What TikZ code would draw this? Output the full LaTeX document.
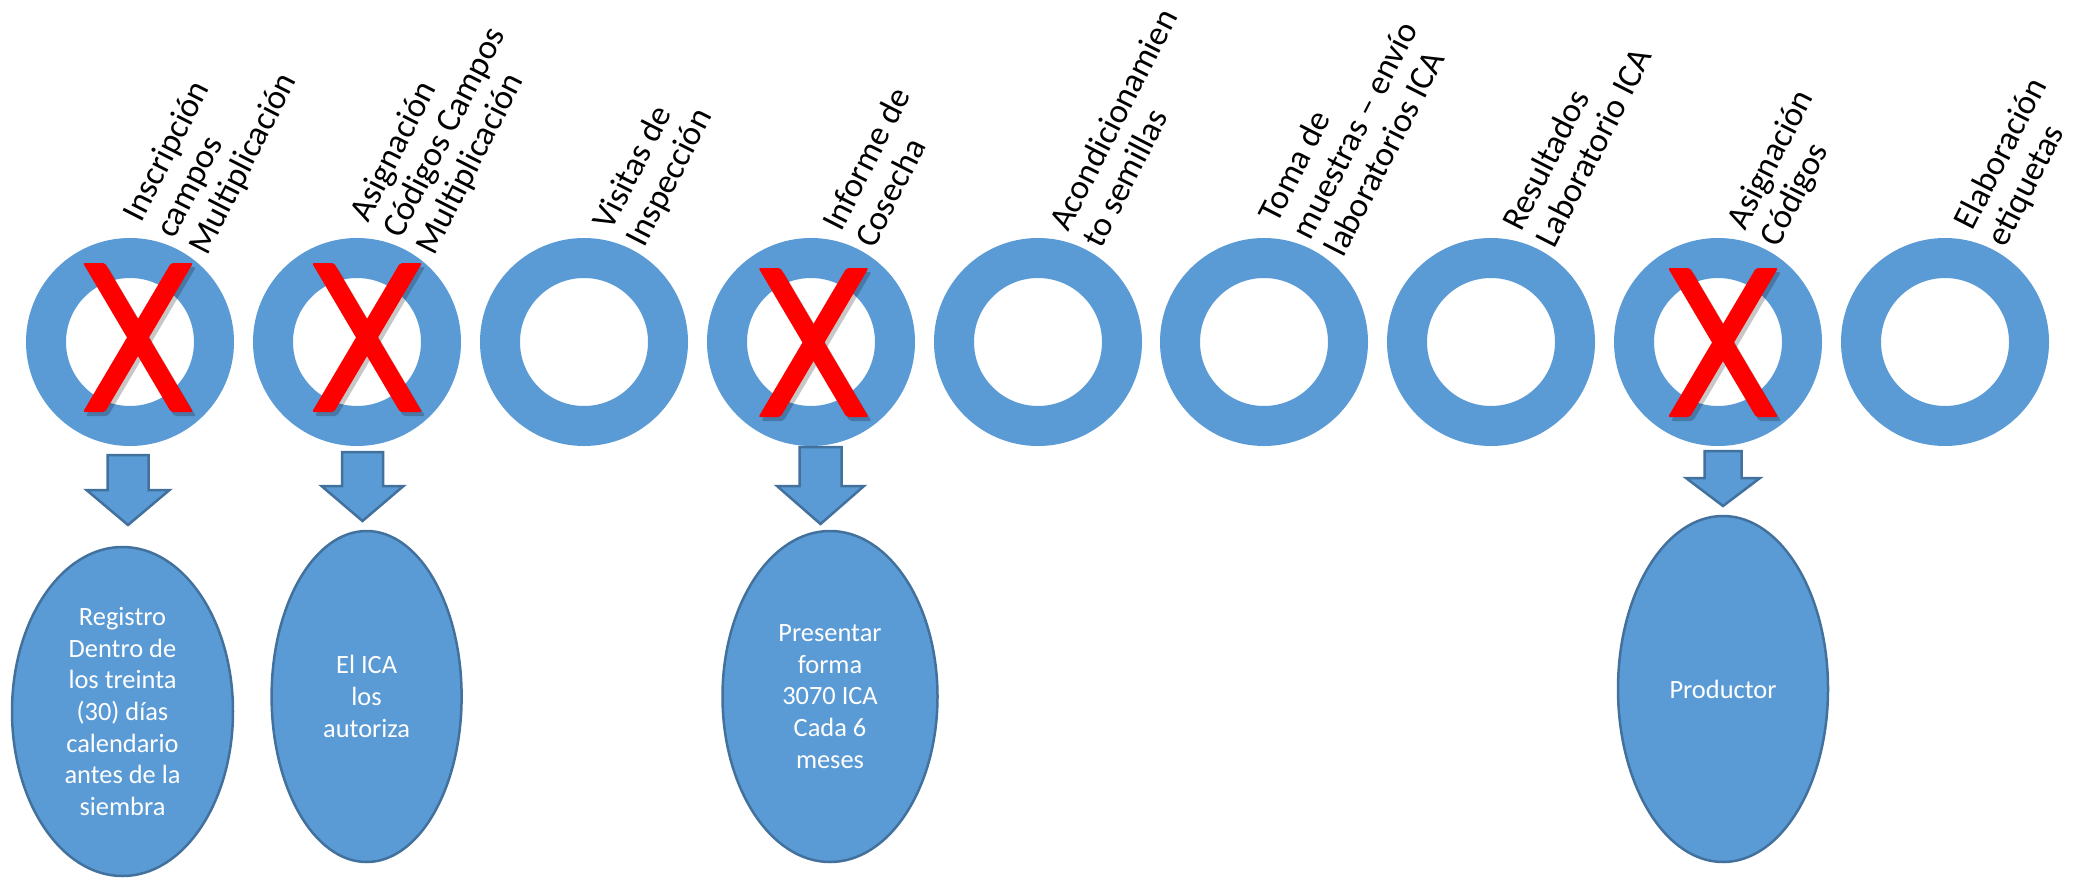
\documentclass[tikz,border=0pt]{standalone}
\usepackage{fontspec}
\setmainfont{Carlito}
\usetikzlibrary{shapes.geometric}
\definecolor{ringblue}{HTML}{5B9BD5}
\definecolor{edgeblue}{HTML}{41719C}
\definecolor{xred}{HTML}{FF0000}
\tikzset{
  ring/.style={circle, draw=ringblue, line width=40pt, minimum size=168pt, inner sep=0pt},
  lab/.style={anchor=west, rotate=63, align=left, inner sep=0pt, text=black,
    font=\fontsize{34.5}{37}\selectfont},
  oval/.style={ellipse, fill=ringblue, draw=edgeblue, line width=2.5pt, text=white,
    align=center, inner sep=0pt, font=\fontsize{26.4}{31.7}\selectfont},
  barr/.style={fill=ringblue, draw=edgeblue, line width=2.5pt, line join=miter},
  xarm/.style={fill=xred, rounded corners=2pt},
  xshadow/.style={fill=black, opacity=0.22, rounded corners=2pt}
}
\newcommand\redx[2]{%
  \begin{scope}[shift={(3,4)}]
  \path[xshadow] (#1-55,#2-74.5) -- (#1-33,#2-74.5) -- (#1+55,#2+74.5) -- (#1+33,#2+74.5) -- cycle;
  \path[xshadow] (#1+55,#2-74.5) -- (#1+33,#2-74.5) -- (#1-55,#2+74.5) -- (#1-33,#2+74.5) -- cycle;
  \end{scope}
  \path[xarm] (#1-55,#2-74.5) -- (#1-33,#2-74.5) -- (#1+55,#2+74.5) -- (#1+33,#2+74.5) -- cycle;
  \path[xarm] (#1+55,#2-74.5) -- (#1+33,#2-74.5) -- (#1-55,#2+74.5) -- (#1-33,#2+74.5) -- cycle;
}
% block arrow: cx, top, headstart, tip, half shaft, half head
\newcommand\barrow[6]{%
  \draw[barr] (#1-#5,#2) -- (#1+#5,#2) -- (#1+#5,#3) -- (#1+#6,#3) -- (#1,#4)
    -- (#1-#6,#3) -- (#1-#5,#3) -- cycle;
}
\begin{document}
\begin{tikzpicture}[x=1pt,y=-1pt]
\useasboundingbox (0,0) rectangle (2074,880);
\fill[white] (0,0) rectangle (2074,880);

% rings
\node[ring] (r1) at (130,342) {};
\node[ring] (r2) at (357,342) {};
\node[ring] (r3) at (584,342) {};
\node[ring] (r4) at (811,342) {};
\node[ring] (r5) at (1038,342) {};
\node[ring] (r6) at (1264,342) {};
\node[ring] (r7) at (1491,342) {};
\node[ring] (r8) at (1718,342) {};
\node[ring] (r9) at (1945,342) {};

% labels
\node[lab] (l1) at (166,236) {Inscripción\\campos\\Multiplicación};
\node[lab] (l2) at (393,236) {Asignación\\Códigos Campos\\Multiplicación};
\node[lab] (l3) at (620,236) {Visitas de\\Inspección};
\node[lab] (l4) at (847,236) {Informe de\\Cosecha};
\node[lab] (l5) at (1074,236) {Acondicionamien\\to semillas};
\node[lab] (l6) at (1300,236) {Toma de\\muestras – envío\\laboratorios ICA};
\node[lab] (l7) at (1527,236) {Resultados\\Laboratorio ICA};
\node[lab] (l8) at (1754,236) {Asignación\\Códigos};
\node[lab] (l9) at (1981,236) {Elaboración\\etiquetas};

% red crosses
\redx{138}{337.5}
\redx{367}{337.5}
\redx{813.5}{342.5}
\redx{1723}{342.5}

% block arrows
\barrow{128}{455}{490}{525}{20.5}{41.5}
\barrow{362.5}{452}{486}{521}{20.5}{41}
\barrow{820.5}{447}{486}{524}{21}{43.5}
\barrow{1723}{451}{478}{506}{18.5}{37}

% ovals
\node[oval, minimum width=221pt, minimum height=329pt] (e1) at (122.5,711.5)
  {Registro\\Dentro de\\los treinta\\(30) días\\calendario\\antes de la\\siembra};
\node[oval, minimum width=190pt, minimum height=331pt] (e2) at (366.6,696.5)
  {El ICA\\los\\autoriza};
\node[oval, minimum width=215pt, minimum height=331pt] (e3) at (830,696.5)
  {Presentar\\forma\\3070 ICA\\Cada 6\\meses};
\node[oval, minimum width=210pt, minimum height=346pt] (e4) at (1723,689)
  {Productor};
\end{tikzpicture}
\end{document}
